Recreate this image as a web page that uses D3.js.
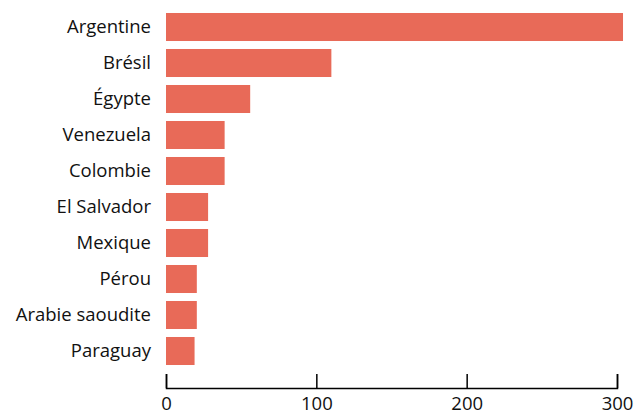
<!DOCTYPE html>
<html>
<head>
<meta charset="utf-8">
<script src="https://cdn.jsdelivr.net/npm/d3@7"></script>
<style>
  body { margin: 0; background: #fff; }
  svg { display: block; }
  text { font-family: "Open Sans", sans-serif; fill: #111; }
</style>
</head>
<body>
<div id="chart"></div>
<script>
// countries, top to bottom
var countries = ["Argentine", "Brésil", "Égypte", "Venezuela", "Colombie",
                 "El Salvador", "Mexique", "Pérou", "Arabie saoudite", "Paraguay"];
var values = [304, 110, 56, 39, 39, 28, 28, 20.5, 20.5, 19];
var xTicks = [0, 100, 200, 300];

function init() {
    var w = 637, h = 415;

    var svg = d3.select("#chart")
        .append("svg")
        .attr("width", w)
        .attr("height", h);

    var data = countries.map(function(c, i) {
        return {name: c, value: values[i]};
    });

    // x Scale
    var xScale = d3.scaleLinear()
        .domain([0, 300])
        .range([166, 617]);

    // y Scale
    var yScale = d3.scaleBand()
        .domain(countries)
        .range([9, 369])
        .paddingInner(0.222)
        .paddingOuter(0.111);

    svg.selectAll("rect")
        .data(data)
        .enter()
        .append("rect")
        .attr("x", xScale(0))
        .attr("y", function(d) { return yScale(d.name); })
        .attr("width", function(d) { return xScale(d.value) - xScale(0); })
        .attr("height", yScale.bandwidth())
        .attr("fill", "#e86a58");

    // country labels
    svg.selectAll(".label")
        .data(data)
        .enter()
        .append("text")
        .attr("class", "label")
        .attr("x", 151)
        .attr("y", function(d) { return yScale(d.name) + yScale.bandwidth() / 2; })
        .attr("dy", "0.35em")
        .attr("text-anchor", "end")
        .style("font-size", "18.5px")
        .text(function(d) { return d.name; });

    // x axis, ticks pointing up
    var axis = svg.append("g")
        .attr("transform", "translate(0,388)")
        .call(d3.axisBottom(xScale)
            .tickValues(xTicks)
            .tickSizeInner(-14)
            .tickSizeOuter(-14)
            .tickPadding(9));

    axis.select(".domain").attr("stroke", "#000").attr("stroke-width", 1.5);
    axis.selectAll(".tick line").attr("stroke", "#000").attr("stroke-width", 1.5);
    axis.selectAll(".tick text")
        .style("font-family", "'Open Sans', sans-serif")
        .style("font-size", "18.5px")
        .attr("fill", "#111");
}

window.onload = init;
</script>
</body>
</html>
